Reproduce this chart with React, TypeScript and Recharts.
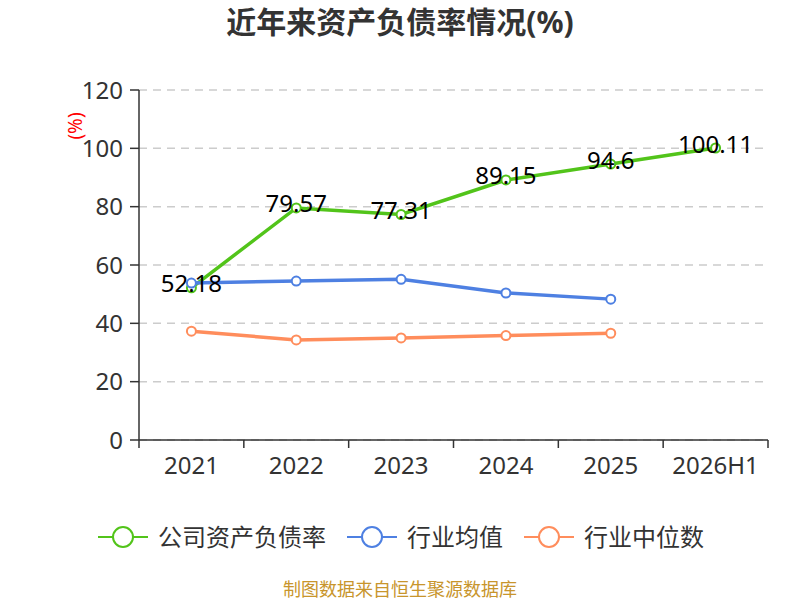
import React from "react";
import {
  LineChart,
  Line,
  XAxis,
  YAxis,
  CartesianGrid,
  LabelList,
} from "recharts";

// values
const years = ["2021", "2022", "2023", "2024", "2025", "2026H1"];
const companyRatio = [52.18, 79.57, 77.31, 89.15, 94.6, 100.11];
const industryAvg = [53.8, 54.5, 55.1, 50.4, 48.3, null];
const industryMedian = [37.3, 34.3, 35.0, 35.8, 36.6, null];
const yTicks = [0, 20, 40, 60, 80, 100, 120];

const GREEN = "#52c41a";
const BLUE = "#4e80e2";
const ORANGE = "#ff8d5c";
const FONT = "'Noto Sans', 'Noto Sans CJK SC', sans-serif";

const PLOT_LEFT = 139;
const PLOT_RIGHT = 768;
const BAND = (PLOT_RIGHT - PLOT_LEFT) / years.length;

const data = years.map((name, i) => ({
  name,
  company: companyRatio[i],
  avg: industryAvg[i],
  median: industryMedian[i],
}));

const legendItems = [
  { name: "公司资产负债率", color: GREEN },
  { name: "行业均值", color: BLUE },
  { name: "行业中位数", color: ORANGE },
];

// x tick: label at category centre, tick marks on band boundaries
const XTick = (props: any) => {
  const { x, y, payload, index } = props;
  const left = x - BAND / 2;
  return (
    <g>
      <line x1={left} y1={y} x2={left} y2={y + 8} stroke="#333" strokeWidth={1.5} />
      {index === years.length - 1 && (
        <line x1={x + BAND / 2} y1={y} x2={x + BAND / 2} y2={y + 8} stroke="#333" strokeWidth={1.5} />
      )}
      <text x={x} y={y + 34} textAnchor="middle" fontSize={24} fill="#333" fontFamily={FONT}>
        {payload.value}
      </text>
    </g>
  );
};

const ValueLabel = (props: any) => {
  const { x, y, value } = props;
  if (value == null) return null;
  return (
    <text x={x} y={y + 4.5} textAnchor="middle" fontSize={24} fill="#000" fontFamily={FONT}>
      {value}
    </text>
  );
};

const LegendIcon = ({ color }: { color: string }) => (
  <svg width={50} height={24} style={{ display: "block" }}>
    <line x1={0} y1={12} x2={50} y2={12} stroke={color} strokeWidth={2} />
    <circle cx={25} cy={12} r={10} fill="#fff" stroke={color} strokeWidth={2} />
  </svg>
);

export default function App() {
  return (
    <div style={{ position: "absolute", left: 0, top: 0, width: 800, height: 600, background: "#fff", fontFamily: FONT }}>
      <div
        style={{
          position: "absolute",
          top: 2,
          left: 0,
          width: 800,
          textAlign: "center",
          fontSize: 30,
          lineHeight: "40px",
          fontWeight: "bold",
          color: "#333",
        }}
      >
        近年来资产负债率情况(%)
      </div>
      <LineChart
        width={800}
        height={600}
        data={data}
        margin={{ top: 90, right: 800 - PLOT_RIGHT, bottom: 130, left: PLOT_LEFT - 60 }}
      >
        <CartesianGrid vertical={false} stroke="#ccc" strokeDasharray="8 6" strokeWidth={1.5} />
        <XAxis
          dataKey="name"
          scale="band"
          height={30}
          stroke="#333"
          strokeWidth={1.5}
          tickLine={false}
          tickSize={0}
          tickMargin={0}
          tick={<XTick />}
          interval={0}
        />
        <YAxis
          width={60}
          domain={[0, 120]}
          ticks={yTicks}
          stroke="#333"
          strokeWidth={1.5}
          tickSize={9}
          tickMargin={7}
          tick={{ fontSize: 24, fill: "#333", fontFamily: FONT }}
          label={{
            content: () => (
              <text
                x={75}
                y={126}
                transform="rotate(-90 75 126)"
                textAnchor="middle"
                dominantBaseline="central"
                fontSize={19}
                fill="#f00"
                fontFamily={FONT}
              >
                (%)
              </text>
            ),
          }}
        />
        <Line
          dataKey="company"
          stroke={GREEN}
          strokeWidth={3.5}
          dot={{ r: 4.5, fill: "#fff", stroke: GREEN, strokeWidth: 2 }}
          isAnimationActive={false}
        />
        <Line
          dataKey="avg"
          stroke={BLUE}
          strokeWidth={3.5}
          dot={{ r: 4.5, fill: "#fff", stroke: BLUE, strokeWidth: 2 }}
          isAnimationActive={false}
        />
        <Line
          dataKey="median"
          stroke={ORANGE}
          strokeWidth={3.5}
          dot={{ r: 4.5, fill: "#fff", stroke: ORANGE, strokeWidth: 2 }}
          isAnimationActive={false}
        />
        {/* labels drawn last so they sit above every line */}
        <Line
          dataKey="company"
          stroke="none"
          dot={false}
          activeDot={false}
          legendType="none"
          isAnimationActive={false}
        >
          <LabelList dataKey="company" content={<ValueLabel />} />
        </Line>
      </LineChart>
      <div
        style={{
          position: "absolute",
          top: 520,
          left: 98,
          display: "flex",
          alignItems: "center",
          fontSize: 24,
          lineHeight: "34px",
          color: "#333",
        }}
      >
        {legendItems.map((it) => (
          <div key={it.name} style={{ display: "flex", alignItems: "center", marginRight: 21 }}>
            <LegendIcon color={it.color} />
            <span style={{ marginLeft: 10 }}>{it.name}</span>
          </div>
        ))}
      </div>
      <div
        style={{
          position: "absolute",
          top: 577,
          left: 0,
          width: 800,
          textAlign: "center",
          fontSize: 18,
          lineHeight: "24px",
          color: "#c8952c",
        }}
      >
        制图数据来自恒生聚源数据库
      </div>
    </div>
  );
}
